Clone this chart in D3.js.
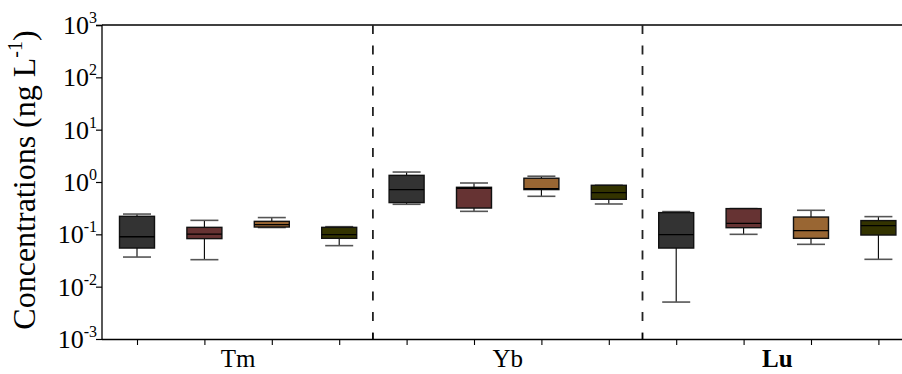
<!DOCTYPE html>
<html>
<head>
<meta charset="utf-8">
<script src="https://cdn.jsdelivr.net/npm/d3@7"></script>
<style>
  html, body { margin: 0; padding: 0; background: #fff; }
  svg { display: block; }
</style>
</head>
<body>
<div id="chart"></div>
<script>
// ---- data ----
const categories = ["Tm", "Yb", "Lu"];
const groups = ["G1", "G2", "G3", "G4"];
const groupColors = ["#333333", "#663333", "#996633", "#333300"];
// each entry: [min, q1, median, q3, max]
const tmStats = [
  [0.0368, 0.0547, 0.090, 0.221, 0.244],
  [0.0328, 0.0828, 0.101, 0.136, 0.185],
  [0.135, 0.138, 0.153, 0.177, 0.209],
  [0.0608, 0.0839, 0.0986, 0.136, 0.140]
];
const ybStats = [
  [0.375, 0.404, 0.716, 1.34, 1.55],
  [0.275, 0.318, 0.76, 0.792, 0.957],
  [0.533, 0.716, 0.748, 1.18, 1.29],
  [0.380, 0.467, 0.627, 0.865, 0.865]
];
const luStats = [
  [0.00508, 0.0547, 0.0987, 0.260, 0.272],
  [0.100, 0.134, 0.162, 0.310, 0.310],
  [0.0644, 0.0839, 0.118, 0.214, 0.288],
  [0.0333, 0.097, 0.147, 0.183, 0.218]
];
const yTickExponents = [-3, -2, -1, 0, 1, 2, 3];
const yTitle = "Concentrations (ng L";
const yTitleSup = "-1";

// ---- layout ----
const W = 902, H = 374;
const margin = { left: 102, top: 25, bottom: 35 };
const step = 67.4;
const firstCenter = 137;
const plotRight = firstCenter + 11 * step + step / 2;

const svg = d3.select("#chart").append("svg").attr("width", W).attr("height", H);

const y = d3.scaleLog().domain([1e-3, 1e3]).range([339, 25]);
const slots = d3.range(12);
const x = d3.scalePoint().domain(slots).range([firstCenter, firstCenter + 11 * step]);

const allStats = [tmStats, ybStats, luStats];
const boxes = [];
allStats.forEach((arr, ci) => arr.forEach((s, gi) => boxes.push({ ci, gi, slot: ci * 4 + gi, s })));

const font = "Liberation Serif";

// frame top line
svg.append("line").attr("x1", margin.left).attr("x2", plotRight).attr("y1", 25).attr("y2", 25)
  .attr("stroke", "#000").attr("stroke-width", 1.3);

// dashed separators
const sepX = [ (x(3) + x(4)) / 2, (x(7) + x(8)) / 2 ];
svg.selectAll(".sep").data(sepX).enter().append("line")
  .attr("x1", d => d).attr("x2", d => d).attr("y1", 25).attr("y2", 339)
  .attr("stroke", "#222").attr("stroke-width", 1.8).attr("stroke-dasharray", "9,11.5");

// boxes
const bw = 35, cw = 28;
const g = svg.append("g");
boxes.forEach(b => {
  const cx = x(b.slot);
  const [mn, q1, md, q3, mx] = b.s;
  g.append("line").attr("x1", cx).attr("x2", cx).attr("y1", y(q3)).attr("y2", y(mx))
    .attr("stroke", "#000").attr("stroke-width", 1.1);
  g.append("line").attr("x1", cx).attr("x2", cx).attr("y1", y(q1)).attr("y2", y(mn))
    .attr("stroke", "#000").attr("stroke-width", 1.1);
  [mn, mx].forEach(v => {
    g.append("line").attr("x1", cx - cw / 2).attr("x2", cx + cw / 2).attr("y1", y(v)).attr("y2", y(v))
      .attr("stroke", "#555").attr("stroke-width", 1.6);
  });
  g.append("rect").attr("x", cx - bw / 2).attr("width", bw)
    .attr("y", y(q3)).attr("height", Math.max(0.5, y(q1) - y(q3)))
    .attr("fill", groupColors[b.gi]).attr("stroke", "#111").attr("stroke-width", 1.4);
  g.append("line").attr("x1", cx - bw / 2).attr("x2", cx + bw / 2).attr("y1", y(md)).attr("y2", y(md))
    .attr("stroke", "#000").attr("stroke-width", 1.3);
});

// y axis
const yAxis = d3.axisLeft(y).tickValues(yTickExponents.map(e => Math.pow(10, e)))
  .tickSize(6).tickFormat("");
const ya = svg.append("g").attr("transform", `translate(${margin.left},0)`).call(yAxis);
ya.select(".domain").attr("stroke", "#000").attr("stroke-width", 1.3).attr("d", `M-6,25.5H0V339H0`);
ya.selectAll(".tick line").attr("stroke", "#000").attr("stroke-width", 1.2);

const yl = svg.append("g");
yTickExponents.forEach(e => {
  const t = yl.append("text").attr("x", 97).attr("y", y(Math.pow(10, e)) + 9)
    .attr("text-anchor", "end").attr("font-family", font).attr("font-size", 26).attr("fill", "#000");
  t.append("tspan").text("10");
  t.append("tspan").attr("font-size", 16).attr("dy", -11).text(String(e));
});

// x axis
const xAxis = d3.axisBottom(x).tickSize(6).tickFormat("");
const xa = svg.append("g").attr("transform", `translate(0,339)`).call(xAxis);
xa.select(".domain").attr("d", `M${margin.left},0.5H${plotRight}`).attr("stroke", "#000").attr("stroke-width", 1.3);
xa.selectAll(".tick line").attr("stroke", "#000").attr("stroke-width", 1.1);
svg.selectAll(".septick").data(sepX).enter().append("line")
  .attr("x1", d => d).attr("x2", d => d).attr("y1", 339).attr("y2", 333)
  .attr("stroke", "#000").attr("stroke-width", 1.2);

// category labels
categories.forEach((c, ci) => {
  const cx = (x(ci * 4) + x(ci * 4 + 3)) / 2;
  svg.append("text").attr("x", cx).attr("y", 367).attr("text-anchor", "middle")
    .attr("font-family", font).attr("font-size", 25)
    .attr("font-weight", c === "Lu" ? "bold" : "normal").attr("fill", "#000").text(c);
});

// y title
const yt = svg.append("text").attr("transform", `translate(35,180) rotate(-90)`)
  .attr("text-anchor", "middle").attr("font-family", font).attr("font-size", 32).attr("fill", "#000");
yt.append("tspan").text(yTitle);
yt.append("tspan").attr("font-size", 20).attr("dy", -13).text(yTitleSup);
yt.append("tspan").attr("dy", 13).text(")");
</script>
</body>
</html>
